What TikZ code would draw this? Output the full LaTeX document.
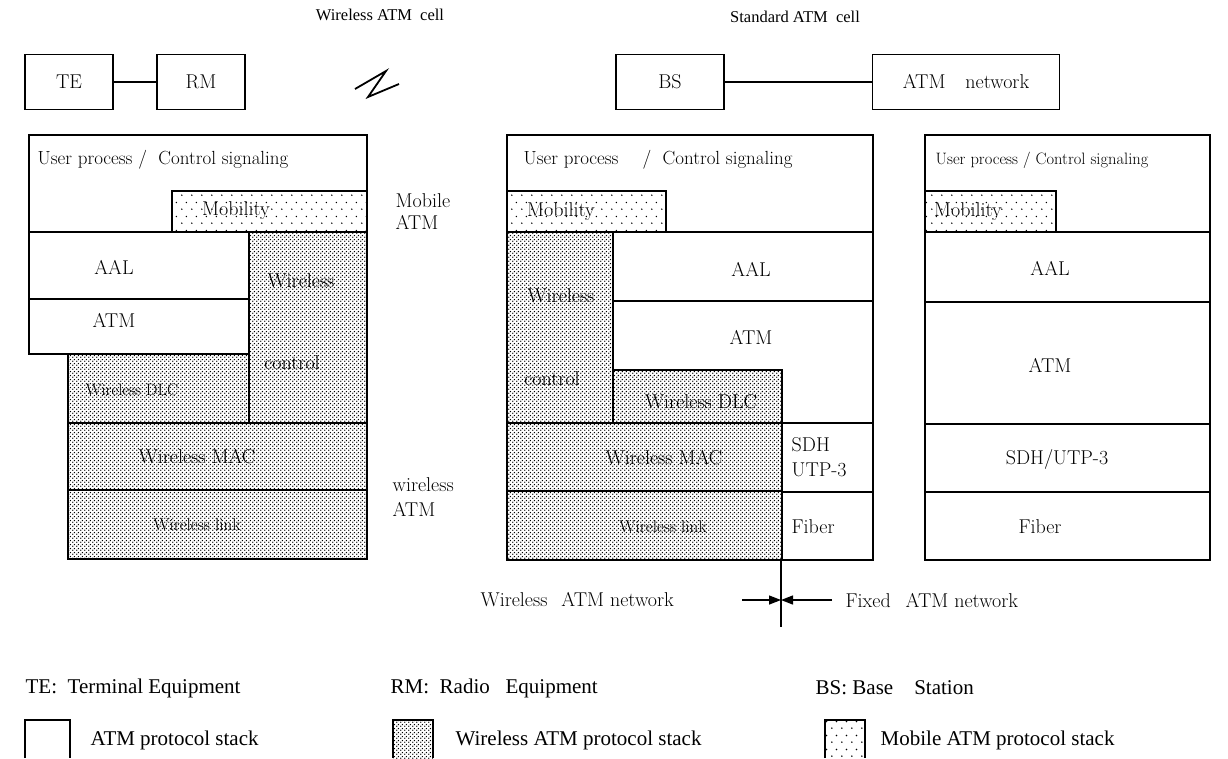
\documentclass[tikz,border=0pt]{standalone}
\usepackage{fontspec}
\newfontfamily\tmsfont{Liberation Serif}
\usetikzlibrary{patterns,arrows.meta}

\pgfdeclarepatternformonly{wdots}{\pgfqpoint{0pt}{0pt}}{\pgfqpoint{4pt}{4pt}}{\pgfqpoint{4pt}{4pt}}{%
  \pgfpathcircle{\pgfqpoint{1pt}{1pt}}{0.9pt}%
  \pgfpathcircle{\pgfqpoint{3pt}{3pt}}{0.9pt}%
  \pgfusepath{fill}}
\pgfdeclarepatternformonly{mdots}{\pgfqpoint{0pt}{0pt}}{\pgfqpoint{10pt}{14pt}}{\pgfqpoint{10pt}{14pt}}{%
  \pgfpathcircle{\pgfqpoint{2pt}{3pt}}{0.85pt}%
  \pgfpathcircle{\pgfqpoint{7pt}{10pt}}{0.85pt}%
  \pgfusepath{fill}}

\begin{document}
\begin{tikzpicture}[x=1pt,y=-1pt, line width=1.3pt,
  wl/.style={pattern=wdots, pattern color=black},
  mb/.style={pattern=mdots, pattern color=black},
  lbl/.style={inner sep=0pt, font=\fontsize{20}{23}\selectfont},
  lbs/.style={inner sep=0pt, font=\fontsize{17}{20}\selectfont},
  lup/.style={inner sep=0pt, font=\fontsize{19}{22}\selectfont},
  ttl/.style={inner sep=0pt, font=\tmsfont\fontsize{16.5}{19}\selectfont},
  leg/.style={inner sep=0pt, anchor=west, font=\tmsfont\fontsize{21}{24}\selectfont},
  topbox/.style={draw, line width=1.3pt, minimum height=55pt, inner sep=0pt, font=\fontsize{20}{24}\selectfont},
  tip/.style={-{Triangle[length=12pt,width=9pt]}}
]
\useasboundingbox (0,0) rectangle (1228,758);
\fill[white] (0,0) rectangle (1228,758);

% titles
\node[ttl] (t1) at (380,15) {Wireless ATM\ \ cell};
\node[ttl] (t2) at (795,17) {Standard ATM\ \ cell};

% top row
\node[topbox, minimum width=88pt] (te) at (69,82) {TE};
\node[topbox, minimum width=88pt] (rm) at (201,82) {RM};
\draw (te) -- (rm);
\node[topbox, minimum width=108pt] (bs) at (670,82) {BS};
\node[topbox, minimum width=187pt] (atmn) at (966,82) {ATM\quad network};
\draw (bs) -- (atmn);
\draw[line width=1.8pt] (355,89) -- (386,71) -- (368,97) -- (399,84);

% ---------- left stack ----------
\fill[mb] (172,191) rectangle (367,232);
\fill[wl] (249,232) rectangle (367,423);
\fill[wl] (68,354) rectangle (249,423);
\fill[wl] (68,423) rectangle (367,559);
\draw (29,135) rectangle (367,232);
\draw (172,191) rectangle (367,232);
\draw (29,232) rectangle (249,354);
\draw (29,299) -- (249,299);
\draw (249,232) rectangle (367,423);
\draw (68,354) rectangle (249,423);
\draw (68,423) rectangle (367,490);
\draw (68,490) rectangle (367,559);

\node[lup, anchor=west] (lup) at (37,160) {User process /\ \ Control signaling};
\node[lbl] (lmob) at (236,211) {Mobility};
\node[lbl] (laal) at (114,267) {AAL};
\node[lbl] (latm) at (114,320) {ATM};
\node[lbl] (lwc1) at (301,281) {Wireless};
\node[lbl] (lwc2) at (292,363) {control};
\node[inner sep=0pt, font=\fontsize{16.5}{20}\selectfont] (ldlc) at (132,390) {Wireless DLC};
\node[lbl] (lmac) at (197,457) {Wireless MAC};
\node[lbs] (llnk) at (197,525) {Wireless link};

\node[lbl, anchor=west, align=left, font=\fontsize{20}{22}\selectfont] (mobatm) at (395,212) {Mobile\\ATM};
\node[lbl, anchor=west, align=left, font=\fontsize{20}{25}\selectfont] (wlatm) at (392,497) {wireless\\ATM};

% ---------- middle stack ----------
\fill[mb] (507,191) rectangle (666,232);
\fill[wl] (507,232) rectangle (613,423);
\fill[wl] (613,370) rectangle (782,423);
\fill[wl] (507,423) rectangle (782,560);
\draw (507,135) rectangle (873,232);
\draw (507,191) rectangle (666,232);
\draw (507,232) rectangle (613,423);
\draw (613,232) rectangle (873,423);
\draw (613,301) -- (873,301);
\draw (613,370) rectangle (782,423);
\draw (507,423) rectangle (782,491);
\draw (507,491) rectangle (782,560);
\draw (782,423) rectangle (873,492);
\draw (782,492) rectangle (873,560);

\node[lup, anchor=west] (mup1) at (523,160) {User process};
\node[lup] (mup2) at (647,160) {/};
\node[lup, anchor=west] (mup3) at (662,160) {Control signaling};
\node[lbl] (mmob) at (561,212) {Mobility};
\node[lbl] (mwc1) at (561,296) {Wireless};
\node[lbl] (mwc2) at (552,379) {control};
\node[lbl] (maal) at (751,269) {AAL};
\node[lbl] (matm) at (751,337) {ATM};
\node[lbl] (mdlc) at (701,402) {Wireless DLC};
\node[lbl] (mmac) at (664,458) {Wireless MAC};
\node[lbs] (mlnk) at (663,527) {Wireless link};
\node[lbl, anchor=west, align=left, font=\fontsize{20}{25}\selectfont] (msdh) at (791,457) {SDH\\UTP-3};
\node[lbl, anchor=west] (mfib) at (791,527) {Fiber};

% ---------- right stack ----------
\fill[mb] (925,191) rectangle (1056,232);
\draw (925,135) rectangle (1210,560);
\draw (925,191) rectangle (1056,232);
\draw (925,232) -- (1210,232);
\draw (925,302) -- (1210,302);
\draw (925,424) -- (1210,424);
\draw (925,492) -- (1210,492);
\node[inner sep=0pt, font=\fontsize{16.5}{19}\selectfont, anchor=west] (rup) at (935,160) {User process / Control signaling};
\node[lbl] (rmob) at (968,212) {Mobility};
\node[lbl] (raal) at (1050,268) {AAL};
\node[lbl] (ratm) at (1050,365) {ATM};
\node[lbl] (rsdh) at (1057,459) {SDH/UTP-3};
\node[lbl] (rfib) at (1040,527) {Fiber};

% ---------- boundary ----------
\coordinate (dtop) at (781,560);
\coordinate (dbot) at (781,627);
\coordinate (arl) at (742,600);
\coordinate (arm) at (781,600);
\coordinate (arr) at (832,600);
\draw (dtop) -- (dbot);
\draw[tip] (arl) -- (arm);
\draw[tip] (arr) -- (arm);
\node[lbl, anchor=west] (wan) at (480,600) {Wireless\hspace{14pt}ATM\hspace{6pt}network};
\node[lbl, anchor=west] (fan) at (845,600) {Fixed\hspace{15pt}ATM\hspace{6pt}network};

% ---------- legend ----------
\node[leg] (lg1) at (25,688) {TE:\ \ Terminal Equipment};
\node[leg] (lg2) at (390,688) {RM:\ \ Radio\ \ \ Equipment};
\node[leg] (lg3) at (815,688) {BS: Base\ \ \ \ Station};
\draw (25,758) -- (25,720) -- (70,720) -- (70,758);
\fill[wl] (393,720) rectangle (433,758);
\draw (393,758) -- (393,720) -- (433,720) -- (433,758);
\fill[mb] (825,720) rectangle (865,758);
\draw (825,758) -- (825,720) -- (865,720) -- (865,758);
\node[leg] (lk1) at (90,740) {ATM protocol stack};
\node[leg] (lk2) at (455,740) {Wireless ATM protocol stack};
\node[leg] (lk3) at (880,740) {Mobile ATM protocol stack};
\end{tikzpicture}
\end{document}
